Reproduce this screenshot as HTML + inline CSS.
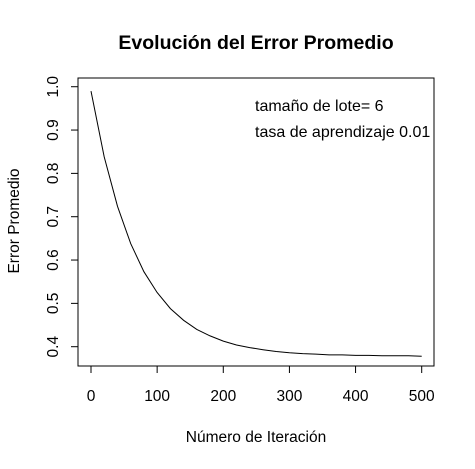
<!DOCTYPE html>
<html><head><meta charset="utf-8"><style>
body{margin:0;background:#fff}
svg text{font-family:"Liberation Sans",Arial,sans-serif;fill:#000}
</style></head><body>
<svg id="chart" width="475" height="464" xmlns="http://www.w3.org/2000/svg">
<rect width="475" height="464" fill="#fff"/>
<text x="256" y="49" font-size="19.5" font-weight="bold" text-anchor="middle">Evolución del Error Promedio</text>
<rect x="78" y="78" width="356" height="288" fill="none" stroke="#000" stroke-width="1"/>
<g id="xaxis"></g>
<g id="yaxis"></g>
<path id="line" fill="none" stroke="#000" stroke-width="1"/>
<text x="255" y="111" font-size="16">tamaño de lote= 6</text>
<text x="255" y="137" font-size="16">tasa de aprendizaje 0.01</text>
<text x="256" y="442" font-size="15.5" text-anchor="middle">Número de Iteración</text>
<text transform="translate(19,221) rotate(-90)" font-size="15.5" text-anchor="middle">Error Promedio</text>
</svg>
<script>
const iterations=[0,20,40,60,80,100,120,140,160,180,200,220,240,260,280,300,320,340,360,380,400,420,440,460,480,500];
const errors=[0.99,0.838,0.724,0.638,0.573,0.525,0.488,0.461,0.440,0.425,0.413,0.404,0.398,0.393,0.389,0.386,0.384,0.383,0.381,0.381,0.380,0.380,0.379,0.379,0.379,0.378];
const xTicks=[0,100,200,300,400,500];
const yTicks=[0.4,0.5,0.6,0.7,0.8,0.9,1.0];
const NS="http://www.w3.org/2000/svg";
function xs(v){return 91+v*(421.7-91)/500;}
function ys(v){return 346.7-(v-0.4)*433.3;}
function mk(t,a,p){const e=document.createElementNS(NS,t);for(const k in a)e.setAttribute(k,a[k]);p.appendChild(e);return e;}
const xa=document.getElementById('xaxis'),ya=document.getElementById('yaxis');
mk('line',{x1:xs(0),x2:xs(500),y1:366,y2:366,stroke:'#000'},xa);
xTicks.forEach(t=>{
 const l=mk('line',{x1:xs(t),x2:xs(t),y1:366,y2:373,stroke:'#000'},xa);
 
 
 const tx=mk('text',{x:xs(t),y:401,'font-size':15.5,'text-anchor':'middle'},xa);
 tx.textContent=t;
 
 
});
mk('line',{x1:78,x2:78,y1:ys(0.4),y2:ys(1.0),stroke:'#000'},ya);
yTicks.forEach(t=>{
 const l=mk('line',{x1:71,x2:78,y1:ys(t),y2:ys(t),stroke:'#000'},ya);
 
 
 const tx=mk('text',{transform:`translate(58,${ys(t)}) rotate(-90)`,'font-size':15.5,'text-anchor':'middle'},ya);
 tx.textContent=t.toFixed(1);
 
 
});
document.getElementById('line').setAttribute('d',iterations.map((v,i)=>(i?'L':'M')+xs(v).toFixed(1)+','+ys(errors[i]).toFixed(1)).join(''));
</script>
</body></html>
